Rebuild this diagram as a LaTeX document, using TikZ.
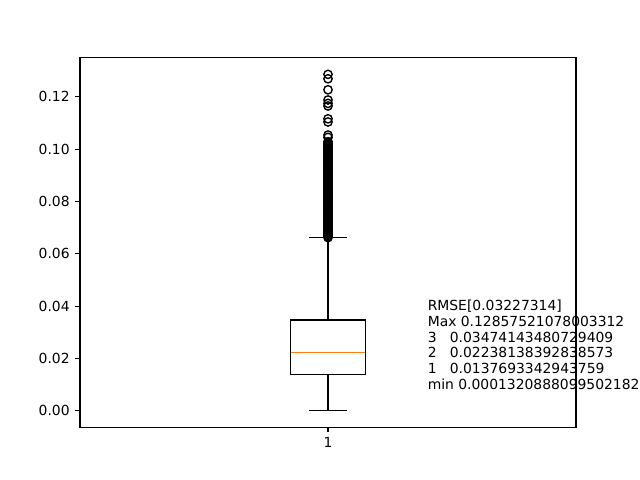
\documentclass[tikz,border=0pt]{standalone}
\usepackage{fontspec}
\setmainfont{DejaVu Sans}
\usetikzlibrary{positioning}
\definecolor{boxorange}{HTML}{FF7F0E}

\begin{document}
\begin{tikzpicture}[x = 0.72pt, y = -0.72pt, font = \fontsize{10}{12}\selectfont, frame/.style = {line width = 0.8pt}, boxline/.style = {line width = 1pt}, flier/.style = {draw, circle, line width = 1pt, minimum size = 6pt, inner sep = 0pt}, ticklabel/.style = {inner sep = 0pt}, stat/.style = {inner sep = 0pt, anchor = base west}]
\useasboundingbox (0,0) rectangle (640,480);
\clip (0,0) rectangle (640,480);

\begin{scope}[shift = {(0,410.75)}, y = 1883.45pt]
\coordinate (q1) at (328,0.01377);
\coordinate (q3) at (328,0.03474);
\coordinate (hi) at (328,0.0662);
\coordinate (lo) at (328,0.000132);

% box and whiskers
\draw[boxline] (290.8,0.03474) rectangle (365.2,0.01377);
\draw[boxline] (q3) -- (hi);
\draw[boxline] (q1) -- (lo);
\draw[boxline] ([xshift = -18.6*0.72pt]hi) -- ([xshift = 18.6*0.72pt]hi);
\draw[boxline] ([xshift = -18.6*0.72pt]lo) -- ([xshift = 18.6*0.72pt]lo);
\draw[boxline, boxorange] (290.8,0.02238) -- (365.2,0.02238);

% outliers
\foreach \v [count = \i] in {0.0662,0.0666,...,0.1030}
  \node[flier] (f\i) at (328,\v) {};
\foreach \v [count = \i] in {0.1045,0.1054,0.1104,0.1116,0.1165,0.1175,0.1188,0.1227,0.1269,0.12858}
  \node[flier] (g\i) at (328,\v) {};

% y axis
\foreach \t [count = \i] in {0.00,0.02,0.04,0.06,0.08,0.10,0.12}
  \draw[frame] (80,\t) -- ++(-4.9,0) node[ticklabel, anchor = east, xshift = -4.9*0.72pt] (y\i) {\t};
\end{scope}

\draw[frame] (80,57.6) rectangle (576,427.2);
\draw[frame] (328,427.2) -- ++(0,4.9) node[ticklabel, anchor = north, yshift = -4.9*0.72pt] (x1) {1};

% statistics
\foreach \s [count = \i from 0] in {{RMSE[0.03227314]}, {Max 0.12857521078003312}, {3\ \ \ 0.03474143480729409}, {2\ \ \ 0.02238138392838573}, {1\ \ \ 0.0137693342943759}, {min 0.00013208880995021826}}
  \node[stat] (l\i) at (427.5,{310.5 + 15.8*\i}) {\s};
\end{tikzpicture}
\end{document}
